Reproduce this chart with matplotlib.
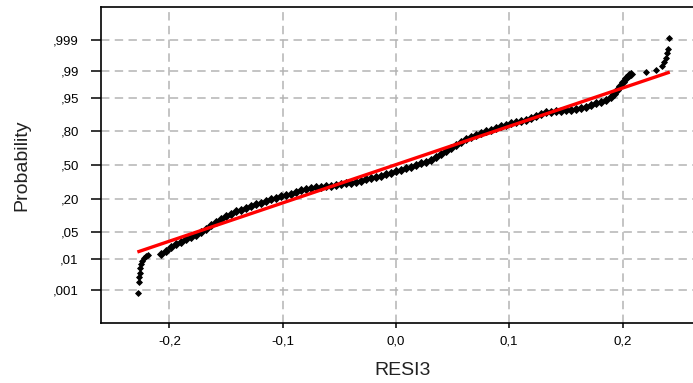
import math
import numpy as np
import matplotlib
matplotlib.use("Agg")
import matplotlib.pyplot as plt

plt.rcParams['font.family'] = ['Liberation Sans', 'DejaVu Sans']

# ------------------------------------------
# data
# ------------------------------------------
resi3 = [
    -0.2275, -0.2272, -0.2268, -0.2263, -0.2256, -0.2247, -0.2237, -0.2224, -0.2206, -0.2189,
    -0.2074, -0.2030, -0.1986, -0.1942, -0.1898, -0.1853, -0.1809, -0.1765, -0.1721, -0.1677,
    -0.1633, -0.1589, -0.1545, -0.1500, -0.1456, -0.1412, -0.1368, -0.1324, -0.1280, -0.1236,
    -0.1192, -0.1147, -0.1103, -0.1059, -0.1015, -0.0971, -0.0927, -0.0883, -0.0838, -0.0794,
    -0.0750, -0.0706, -0.0662, -0.0618, -0.0574, -0.0530, -0.0485, -0.0441, -0.0397, -0.0353,
    -0.0309, -0.0265, -0.0221, -0.0177, -0.0132, -0.0088, -0.0044, 0.0000, 0.0044, 0.0088,
    0.0132, 0.0177, 0.0221, 0.0265, 0.0309, 0.0353, 0.0397, 0.0441, 0.0485, 0.0530,
    0.0574, 0.0618, 0.0662, 0.0706, 0.0750, 0.0794, 0.0838, 0.0883, 0.0927, 0.0971,
    0.1015, 0.1059, 0.1103, 0.1147, 0.1192, 0.1236, 0.1280, 0.1324, 0.1368, 0.1412,
    0.1456, 0.1500, 0.1545, 0.1589, 0.1633, 0.1677, 0.1721, 0.1765, 0.1809, 0.1853,
    0.1898, 0.1924, 0.1951, 0.1977, 0.2004, 0.2030, 0.2056, 0.2074,
    0.2211, 0.2295, 0.2348, 0.2370, 0.2383, 0.2396, 0.2405, 0.2412,
]
prob = [
    0.00078, 0.00195, 0.00276, 0.00386, 0.00539, 0.0071, 0.0090, 0.0106, 0.0121, 0.0132,
    0.0138, 0.0174, 0.0217, 0.0259, 0.0291, 0.0330, 0.0372, 0.0423, 0.0495, 0.0580,
    0.0683, 0.0794, 0.0918, 0.1034, 0.1147, 0.1258, 0.1355, 0.1463, 0.1571, 0.1676,
    0.1770, 0.1866, 0.1974, 0.2091, 0.2194, 0.2297, 0.2408, 0.2527, 0.2646, 0.2743,
    0.2829, 0.2904, 0.2962, 0.3013, 0.3064, 0.3117, 0.3168, 0.3240, 0.3312, 0.3403,
    0.3510, 0.3622, 0.3735, 0.3844, 0.3968, 0.4091, 0.4227, 0.4373, 0.4519, 0.4666,
    0.4825, 0.4980, 0.5148, 0.5323, 0.5509, 0.5754, 0.6059, 0.6359, 0.6644, 0.6929,
    0.7154, 0.7377, 0.7551, 0.7718, 0.7845, 0.7964, 0.8073, 0.8187, 0.8294, 0.8400,
    0.8498, 0.8567, 0.8606, 0.8672, 0.8752, 0.8862, 0.8963, 0.9058, 0.9066, 0.9076,
    0.9082, 0.9109, 0.9133, 0.9160, 0.9206, 0.9248, 0.9305, 0.9360, 0.9410, 0.9459,
    0.9540, 0.9606, 0.9684, 0.9740, 0.9794, 0.9838, 0.9869, 0.9877,
    0.9889, 0.9905, 0.9925, 0.9945, 0.9960, 0.9972, 0.9979, 0.99917,
]

# fitted normal line (end points)
fit_x = [-0.2268, 0.2403]
fit_p = [0.0164, 0.9887]

x_ticks = [-0.2, -0.1, 0.0, 0.1, 0.2]
x_labels = ['-0,2', '-0,1', '0,0', '0,1', '0,2']
p_ticks = [0.001, 0.01, 0.05, 0.20, 0.50, 0.80, 0.95, 0.99, 0.999]
p_labels = [',001', ',01', ',05', ',20', ',50', ',80', ',95', ',99', ',999']

_erf = np.vectorize(math.erf, otypes=[float])


# normal probability scale
def _ncdf(z):
    z = np.asarray(z, dtype=float)
    return 0.5 * (1.0 + _erf(z / math.sqrt(2.0)))


def _nppf(p):
    # Acklam rational approximation + one Newton step
    p = np.clip(np.asarray(p, dtype=float), 1e-12, 1 - 1e-12)
    a = [-3.969683028665376e+01, 2.209460984245205e+02, -2.759285104469687e+02,
         1.383577518672690e+02, -3.066479806614716e+01, 2.506628277459239e+00]
    b = [-5.447609879822406e+01, 1.615858368580409e+02, -1.556989798598866e+02,
         6.680131188771972e+01, -1.328068155288572e+01]
    c = [-7.784894002430293e-03, -3.223964580411365e-01, -2.400758277161838e+00,
         -2.549732539343734e+00, 4.374664141464968e+00, 2.938163982698783e+00]
    d = [7.784695709041462e-03, 3.224671290700398e-01, 2.445134137142996e+00,
         3.754408661907416e+00]
    plow = 0.02425
    q = np.sqrt(-2 * np.log(np.where(p < 0.5, p, 1 - p)))
    tail = (((((c[0]*q + c[1])*q + c[2])*q + c[3])*q + c[4])*q + c[5]) / \
           ((((d[0]*q + d[1])*q + d[2])*q + d[3])*q + 1)
    tail = np.where(p < 0.5, tail, -tail)
    r = (p - 0.5) ** 2
    qq = p - 0.5
    mid = (((((a[0]*r + a[1])*r + a[2])*r + a[3])*r + a[4])*r + a[5]) * qq / \
          (((((b[0]*r + b[1])*r + b[2])*r + b[3])*r + b[4])*r + 1)
    z = np.where((p < plow) | (p > 1 - plow), tail, mid)
    e = _ncdf(z) - p
    u = e * math.sqrt(2 * math.pi) * np.exp(z * z / 2)
    return z - u / (1 + z * u / 2)


fig = plt.figure(figsize=(6.93, 3.83), dpi=100)
ax = fig.add_axes([101 / 693, 1 - 323 / 383, 592 / 693, 316 / 383])
ax.set_yscale('function', functions=(_nppf, _ncdf))

# the dense middle of the cloud is drawn a bit heavier than the sparse tails
ax.plot(resi3[10:-8], prob[10:-8], linestyle='none', marker='D', markersize=3.9,
        color='black', markeredgewidth=0.6, zorder=3)
ax.plot(resi3[:10] + resi3[-8:], prob[:10] + prob[-8:], linestyle='none',
        marker='D', markersize=3.0, color='black', markeredgewidth=0.6, zorder=3)
ax.plot(fit_x, fit_p, color='#ff0000', linewidth=2.4, zorder=4)

ax.set_xlim(-0.2603, 0.2622)
ax.set_ylim(float(_ncdf(-3.9)), float(_ncdf(3.9)))
ax.set_xticks(x_ticks)
ax.set_xticklabels(x_labels)
ax.set_yticks(p_ticks)
ax.set_yticklabels(p_labels)
ax.minorticks_off()

ax.grid(True, color='#b4b4b4', linestyle=(0, (5.5, 3.5)), linewidth=1.1)
ax.set_axisbelow(True)

for side in ['left', 'bottom', 'top']:
    ax.spines[side].set_linewidth(1.2)
    ax.spines[side].set_color('black')
ax.spines['right'].set_visible(False)

ax.tick_params(axis='y', length=7, width=1.1, pad=9, labelsize=9.5, colors='black')
ax.tick_params(axis='x', length=3.8, width=1.1, pad=5, labelsize=9.5, colors='black')

ax.set_xlabel('RESI3', fontsize=14, color='#222222')
ax.xaxis.set_label_coords(0.51, -0.149)
ax.xaxis.label.set_va('center')
ax.set_ylabel('Probability', fontsize=14, color='#222222')
ax.yaxis.set_label_coords(-0.134, 0.498)
ax.yaxis.label.set_va('center')

fig.savefig('out.png', dpi=100)
